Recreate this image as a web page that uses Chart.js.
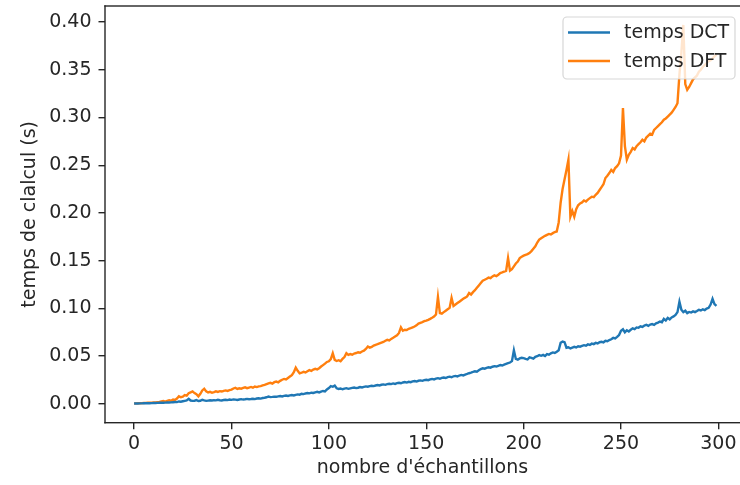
<!DOCTYPE html>
<html>
<head>
<meta charset="utf-8">
<script src="https://cdn.jsdelivr.net/npm/chart.js@4.4.0/dist/chart.umd.min.js"></script>
<style>
  html, body { margin: 0; padding: 0; background: #fff; overflow: hidden; }
  canvas { display: block; }
</style>
</head>
<body>
<canvas id="timingChart" width="740" height="485"></canvas>
<script>
// temps de calcul DCT / DFT en fonction du nombre d'échantillons

var seriesLabels = ['temps DCT', 'temps DFT'];
var seriesColors = ['#1f77b4', '#ff7f0e'];

var xTicks = [0, 50, 100, 150, 200, 250, 300];
var yTicks = [0.00, 0.05, 0.10, 0.15, 0.20, 0.25, 0.30, 0.35, 0.40];

var dctTimes = [
    0.0002, 0.0003, 0.0003, 0.0004, 0.0004, 0.0005, 0.0005, 0.0006, 0.0006, 0.0007,
    0.0008, 0.0008, 0.0009, 0.0010, 0.0010, 0.0011, 0.0012, 0.0013, 0.0013, 0.0014,
    0.0016, 0.0018, 0.0017, 0.0024, 0.0021, 0.0026, 0.0031, 0.0036, 0.0052, 0.0034,
    0.0030, 0.0032, 0.0038, 0.0029, 0.0031, 0.0042, 0.0035, 0.0030, 0.0033, 0.0036,
    0.0034, 0.0038, 0.0036, 0.0041, 0.0037, 0.0035, 0.0039, 0.0042, 0.0038, 0.0044,
    0.0041, 0.0046, 0.0043, 0.0040, 0.0045, 0.0048, 0.0044, 0.0047, 0.0051, 0.0048,
    0.0050, 0.0053, 0.0049, 0.0055, 0.0058, 0.0054, 0.0060, 0.0063, 0.0068, 0.0076,
    0.0070, 0.0072, 0.0075, 0.0073, 0.0078, 0.0081, 0.0077, 0.0083, 0.0086, 0.0082,
    0.0088, 0.0091, 0.0087, 0.0094, 0.0098, 0.0095, 0.0105, 0.0101, 0.0108, 0.0112,
    0.0109, 0.0116, 0.0113, 0.0120, 0.0125, 0.0119, 0.0128, 0.0134, 0.0130, 0.0150,
    0.0165, 0.0185, 0.0178, 0.0190, 0.0162, 0.0155, 0.0160, 0.0152, 0.0158, 0.0163,
    0.0156, 0.0161, 0.0166, 0.0170, 0.0164, 0.0168, 0.0175, 0.0171, 0.0177, 0.0182,
    0.0178, 0.0184, 0.0189, 0.0185, 0.0191, 0.0196, 0.0192, 0.0199, 0.0203, 0.0198,
    0.0205, 0.0210, 0.0206, 0.0213, 0.0208, 0.0216, 0.0220, 0.0215, 0.0223, 0.0227,
    0.0222, 0.0230, 0.0226, 0.0234, 0.0238, 0.0233, 0.0241, 0.0245, 0.0240, 0.0248,
    0.0252, 0.0247, 0.0256, 0.0260, 0.0255, 0.0263, 0.0268, 0.0262, 0.0271, 0.0275,
    0.0270, 0.0279, 0.0284, 0.0278, 0.0288, 0.0292, 0.0287, 0.0296, 0.0302, 0.0297,
    0.0306, 0.0312, 0.0320, 0.0326, 0.0333, 0.0341, 0.0336, 0.0350, 0.0364, 0.0372,
    0.0368, 0.0376, 0.0383, 0.0378, 0.0388, 0.0394, 0.0390, 0.0398, 0.0405, 0.0401,
    0.0410, 0.0418, 0.0425, 0.0432, 0.0447, 0.0560, 0.0470, 0.0462, 0.0475, 0.0482,
    0.0478, 0.0470, 0.0464, 0.0486, 0.0480, 0.0472, 0.0492, 0.0498, 0.0510, 0.0503,
    0.0512, 0.0500, 0.0520, 0.0514, 0.0528, 0.0538, 0.0532, 0.0545, 0.0560, 0.0640,
    0.0652, 0.0645, 0.0587, 0.0592, 0.0580, 0.0588, 0.0596, 0.0590, 0.0602, 0.0598,
    0.0606, 0.0614, 0.0608, 0.0622, 0.0616, 0.0630, 0.0625, 0.0638, 0.0632, 0.0645,
    0.0650, 0.0644, 0.0660, 0.0655, 0.0668, 0.0676, 0.0690, 0.0684, 0.0700, 0.0720,
    0.0765, 0.0780, 0.0748, 0.0770, 0.0758, 0.0775, 0.0790, 0.0782, 0.0800, 0.0796,
    0.0812, 0.0805, 0.0820, 0.0828, 0.0816, 0.0830, 0.0835, 0.0826, 0.0842, 0.0850,
    0.0862, 0.0855, 0.0890, 0.0872, 0.0900, 0.0885, 0.0905, 0.0915, 0.0930, 0.0960,
    0.1070, 0.0985, 0.0960, 0.0975, 0.0950, 0.0962, 0.0956, 0.0968, 0.0960, 0.0972,
    0.0985, 0.0978, 0.0990, 0.0982, 0.0998, 0.1005, 0.1040, 0.1100, 0.1045, 0.1025
];

var dftTimes = [
    0.0003, 0.0004, 0.0005, 0.0006, 0.0007, 0.0008, 0.0009, 0.0010, 0.0011, 0.0012,
    0.0014, 0.0015, 0.0017, 0.0019, 0.0024, 0.0028, 0.0022, 0.0030, 0.0036, 0.0032,
    0.0045, 0.0040, 0.0055, 0.0078, 0.0068, 0.0074, 0.0090, 0.0085, 0.0110, 0.0120,
    0.0129, 0.0112, 0.0100, 0.0078, 0.0105, 0.0140, 0.0158, 0.0130, 0.0118, 0.0125,
    0.0115, 0.0122, 0.0130, 0.0124, 0.0132, 0.0128, 0.0136, 0.0140, 0.0134, 0.0142,
    0.0148, 0.0160, 0.0168, 0.0155, 0.0162, 0.0158, 0.0166, 0.0172, 0.0164, 0.0170,
    0.0176, 0.0168, 0.0180, 0.0175, 0.0182, 0.0185, 0.0192, 0.0198, 0.0206, 0.0214,
    0.0220, 0.0212, 0.0226, 0.0232, 0.0225, 0.0240, 0.0252, 0.0260, 0.0254, 0.0270,
    0.0285, 0.0300, 0.0330, 0.0378, 0.0345, 0.0318, 0.0325, 0.0334, 0.0328, 0.0340,
    0.0352, 0.0345, 0.0358, 0.0366, 0.0360, 0.0372, 0.0390, 0.0405, 0.0420, 0.0438,
    0.0445, 0.0468, 0.0530, 0.0460, 0.0448, 0.0456, 0.0446, 0.0470, 0.0490, 0.0530,
    0.0512, 0.0520, 0.0514, 0.0526, 0.0532, 0.0540, 0.0535, 0.0548, 0.0556, 0.0575,
    0.0600, 0.0588, 0.0596, 0.0610, 0.0618, 0.0624, 0.0632, 0.0640, 0.0648, 0.0660,
    0.0670, 0.0664, 0.0680, 0.0692, 0.0705, 0.0718, 0.0742, 0.0800, 0.0765, 0.0776,
    0.0772, 0.0785, 0.0792, 0.0800, 0.0810, 0.0822, 0.0840, 0.0848, 0.0856, 0.0865,
    0.0872, 0.0880, 0.0890, 0.0902, 0.0915, 0.0935, 0.1120, 0.0950, 0.0945, 0.0960,
    0.0975, 0.0990, 0.1005, 0.1110, 0.1025, 0.1040, 0.1055, 0.1070, 0.1085, 0.1100,
    0.1112, 0.1125, 0.1160, 0.1145, 0.1170, 0.1190, 0.1215, 0.1240, 0.1265, 0.1290,
    0.1300, 0.1310, 0.1322, 0.1316, 0.1334, 0.1345, 0.1338, 0.1352, 0.1370, 0.1376,
    0.1385, 0.1392, 0.1527, 0.1395, 0.1410, 0.1440, 0.1470, 0.1490, 0.1527, 0.1540,
    0.1552, 0.1560, 0.1568, 0.1580, 0.1600, 0.1625, 0.1650, 0.1690, 0.1720, 0.1735,
    0.1748, 0.1760, 0.1770, 0.1780, 0.1775, 0.1788, 0.1800, 0.1806, 0.1900, 0.2107,
    0.2250, 0.2350, 0.2450, 0.2558, 0.1960, 0.2020, 0.1960, 0.2040, 0.2080, 0.2100,
    0.2110, 0.2130, 0.2120, 0.2140, 0.2155, 0.2170, 0.2165, 0.2190, 0.2210, 0.2240,
    0.2270, 0.2300, 0.2366, 0.2390, 0.2418, 0.2450, 0.2430, 0.2470, 0.2490, 0.2520,
    0.2600, 0.3100, 0.2700, 0.2558, 0.2610, 0.2640, 0.2680, 0.2665, 0.2700, 0.2720,
    0.2740, 0.2767, 0.2750, 0.2790, 0.2810, 0.2830, 0.2820, 0.2870, 0.2890, 0.2910,
    0.2930, 0.2950, 0.2977, 0.2990, 0.3010, 0.3030, 0.3050, 0.3080, 0.3110, 0.3150,
    0.3450, 0.3680, 0.3970, 0.3350, 0.3290, 0.3320, 0.3360, 0.3400, 0.3420, 0.3440,
    0.3480, 0.3500, 0.3530, 0.3550, 0.3570, 0.3590, 0.3600, 0.3620, 0.3640, 0.3660
];

// nombre d'échantillons : 0 .. 299
var sampleCounts = dctTimes.map(function (v, i) { return i; });

function toPoints(values) {
    return values.map(function (v, i) { return { x: sampleCounts[i], y: v }; });
}

var FONT = '"DejaVu Sans", sans-serif';
var FONT_SIZE = 19;
var INK = '#262626';

// cadre (le bord droit est hors image) + légende façon matplotlib
var framePlugin = {
    id: 'frame',
    afterDatasetsDraw: function (chart) {
        var a = chart.chartArea;
        var c = chart.ctx;
        var lw = 1.4;
        c.save();
        c.fillStyle = INK;
        // spines haut, gauche, bas
        c.fillRect(a.left - lw / 2, a.top - lw / 2, chart.width - a.left + lw, lw);
        c.fillRect(a.left - lw / 2, a.top - lw / 2, lw, a.bottom - a.top + lw);
        c.fillRect(a.left - lw / 2, a.bottom - lw / 2, chart.width - a.left + lw, lw);

        // légende
        var bx = 563, by = 17, bw = 172, bh = 62;
        c.beginPath();
        c.roundRect(bx, by, bw, bh, 4);
        c.fillStyle = 'rgba(255,255,255,0.8)';
        c.fill();
        c.strokeStyle = 'rgba(204,204,204,0.8)';
        c.lineWidth = 1.2;
        c.stroke();

        c.font = FONT_SIZE + 'px ' + FONT;
        c.textBaseline = 'middle';
        chart.data.datasets.forEach(function (ds, i) {
            var y = 32.5 + i * 28.5;
            c.beginPath();
            c.moveTo(568, y);
            c.lineTo(610, y);
            c.strokeStyle = ds.borderColor;
            c.lineWidth = 2.4;
            c.stroke();
            c.fillStyle = INK;
            c.fillText(ds.label, 624, y + 1);
        });
        c.restore();
    }
};

var ctx = document.getElementById('timingChart').getContext('2d');

var timingChart = new Chart(ctx, {
    type: 'line',
    data: {
        datasets: [{
            label: seriesLabels[0],
            data: toPoints(dctTimes),
            borderColor: seriesColors[0],
            borderWidth: 2.4,
            pointRadius: 0,
            tension: 0
        }, {
            label: seriesLabels[1],
            data: toPoints(dftTimes),
            borderColor: seriesColors[1],
            borderWidth: 2.4,
            pointRadius: 0,
            tension: 0
        }]
    },
    options: {
        responsive: false,
        animation: false,
        layout: {
            padding: { left: 0, top: 6, right: 0, bottom: 0 }
        },
        plugins: {
            legend: { display: false },
            tooltip: { enabled: false }
        },
        scales: {
            x: {
                type: 'linear',
                min: -14.95,
                max: 311.1,
                border: { display: false },
                grid: {
                    drawOnChartArea: false,
                    drawTicks: true,
                    tickLength: 6.5,
                    color: INK,
                    lineWidth: 1.4
                },
                ticks: {
                    color: INK,
                    font: { family: FONT, size: FONT_SIZE },
                    padding: 3,
                    maxRotation: 0,
                    includeBounds: false
                },
                afterBuildTicks: function (scale) {
                    scale.ticks = xTicks.map(function (v) { return { value: v }; });
                },
                afterFit: function (scale) {
                    scale.height = 62.3;
                    scale.paddingLeft = 0;
                    scale.paddingRight = 0;
                },
                title: {
                    display: true,
                    text: "nombre d'échantillons",
                    color: INK,
                    font: { family: FONT, size: FONT_SIZE },
                    padding: { top: 0, bottom: 6 }
                }
            },
            y: {
                type: 'linear',
                min: -0.01985,
                max: 0.41685,
                border: { display: false },
                grid: {
                    drawOnChartArea: false,
                    drawTicks: true,
                    tickLength: 6.5,
                    color: INK,
                    lineWidth: 1.4
                },
                ticks: {
                    color: INK,
                    font: { family: FONT, size: FONT_SIZE },
                    padding: 7,
                    includeBounds: false,
                    callback: function (value) { return value.toFixed(2); }
                },
                afterBuildTicks: function (scale) {
                    scale.ticks = yTicks.map(function (v) { return { value: v }; });
                },
                afterFit: function (scale) {
                    scale.width = 105;
                    scale.paddingTop = 0;
                    scale.paddingBottom = 0;
                },
                title: {
                    display: true,
                    text: 'temps de clalcul (s)',
                    color: INK,
                    font: { family: FONT, size: FONT_SIZE },
                    padding: { top: 19, bottom: 0 }
                }
            }
        }
    },
    plugins: [framePlugin]
});
</script>
</body>
</html>
